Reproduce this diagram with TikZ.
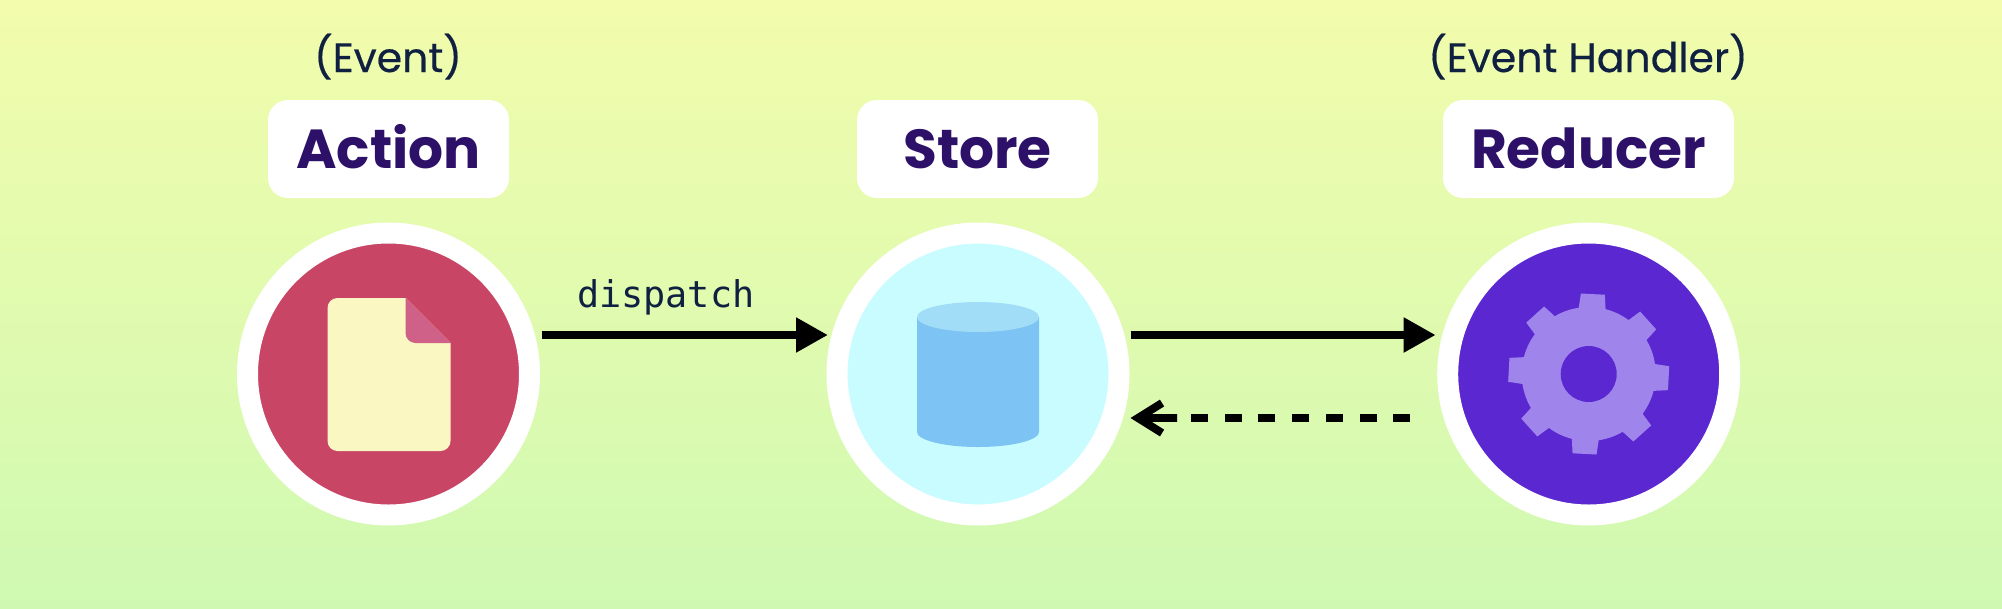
\documentclass[tikz,border=0pt]{standalone}
\usepackage{fontspec}
\setmainfont{Poppins}
\setmonofont{DejaVu Sans Mono}
\usetikzlibrary{arrows.meta}
\definecolor{bgtop}{HTML}{F2FCAC}
\definecolor{bgbottom}{HTML}{CFF9B2}
\definecolor{titleink}{HTML}{2D1168}
\definecolor{noteink}{HTML}{0F2040}
\definecolor{actionred}{HTML}{C94565}
\definecolor{docyellow}{HTML}{FAF7C3}
\definecolor{docfold}{HTML}{CF6088}
\definecolor{storecyan}{HTML}{C9FCFE}
\definecolor{drumblue}{HTML}{7DC4F4}
\definecolor{drumtop}{HTML}{A2DDF8}
\definecolor{reducerviolet}{HTML}{5B27D0}
\definecolor{gearviolet}{HTML}{9F85EB}
\tikzset{
    ring/.style={circle,draw=white,line width=21pt,minimum size=282pt,inner sep=0pt},
    titlebox/.style={fill=white,rounded corners=20pt,minimum height=98pt,inner sep=0pt,
        text=titleink,text height=42pt,text depth=4pt,
        font=\fontsize{55}{60}\selectfont\bfseries},
    note/.style={anchor=base,inner sep=0pt,text=noteink,
        font=\fontsize{41}{46}\selectfont\addfontfeature{FakeBold=0.4}},
    flow/.style={line width=8pt,-{Triangle[length=32pt,width=33pt]}},
    backflow/.style={line width=8pt,dash pattern=on 17pt off 16.7pt,
        -{Rectangle[length=42pt,width=8pt,sep=-27pt]Straight Barb[length=24pt,width=30pt,line width=8pt]}}
}
\begin{document}
\begin{tikzpicture}[x=1pt,y=-1pt]
    \shade[top color=bgtop,bottom color=bgbottom] (0,0) rectangle (2002,608);

    \node[ring,fill=actionred] (actioncirc) at (388.5,374) {};
    \node[ring,fill=storecyan] (storecirc) at (978,374) {};
    \node[ring,fill=reducerviolet] (reducercirc) at (1588.7,374) {};

    \node[titlebox,minimum width=241pt] (actionbox) at (388.5,149) {Action};
    \node[titlebox,minimum width=241pt] (storebox) at (977.5,149) {Store};
    \node[titlebox,minimum width=291pt] (reducerbox) at (1588.5,149) {Reducer};
    \node[note] (actionnote) at (388,72) {(Event)};
    \node[note] (reducernote) at (1588,72) {(Event Handler)};

    % document
    \begin{scope}[shift={(actioncirc.center)}]
        \fill[docyellow] (17,-76) -- (62,-31) [rounded corners=10pt] -- (62,77) -- (-61,77) -- (-61,-76) [sharp corners] -- cycle;
        \fill[docfold] (17,-76) [rounded corners=10pt] -- (17,-31) [sharp corners] -- (62,-31) -- cycle;
    \end{scope}

    % drum
    \begin{scope}[shift={(storecirc.center)}]
        \fill[drumblue] (-61,-57) -- (-61,58) arc[start angle=180,end angle=360,x radius=61,y radius=-15] -- (61,-57) -- cycle;
        \fill[drumtop] (0,-57) ellipse[x radius=61,y radius=15];
    \end{scope}

    % gear
    \fill[gearviolet,shift={(reducercirc.center)}] (0,0) circle[radius=67];
    \foreach \a in {-3,42,...,312}
        \fill[gearviolet,shift={(reducercirc.center)},rotate=\a] (-14,-60) -- (-12,-80) -- (12,-80) -- (14,-60) -- cycle;
    \fill[reducerviolet,shift={(reducercirc.center)}] (0,0) circle[radius=28];

    \draw[flow] ([xshift=1.5pt,yshift=39pt]actioncirc.east) -- node[midway,above=15.5pt,xshift=-19pt,inner sep=0pt,text=noteink,font=\fontsize{36.8}{41}\selectfont\ttfamily] (dispatchlabel) {dispatch} ([xshift=1.5pt,yshift=39pt]storecirc.west);
    \draw[flow] ([xshift=1pt,yshift=39pt]storecirc.east) -- ([xshift=-1.5pt,yshift=39pt]reducercirc.west);
    \draw[backflow] ([xshift=-27pt,yshift=-44pt]reducercirc.west) -- ([xshift=1pt,yshift=-44pt]storecirc.east);
\end{tikzpicture}
\end{document}
